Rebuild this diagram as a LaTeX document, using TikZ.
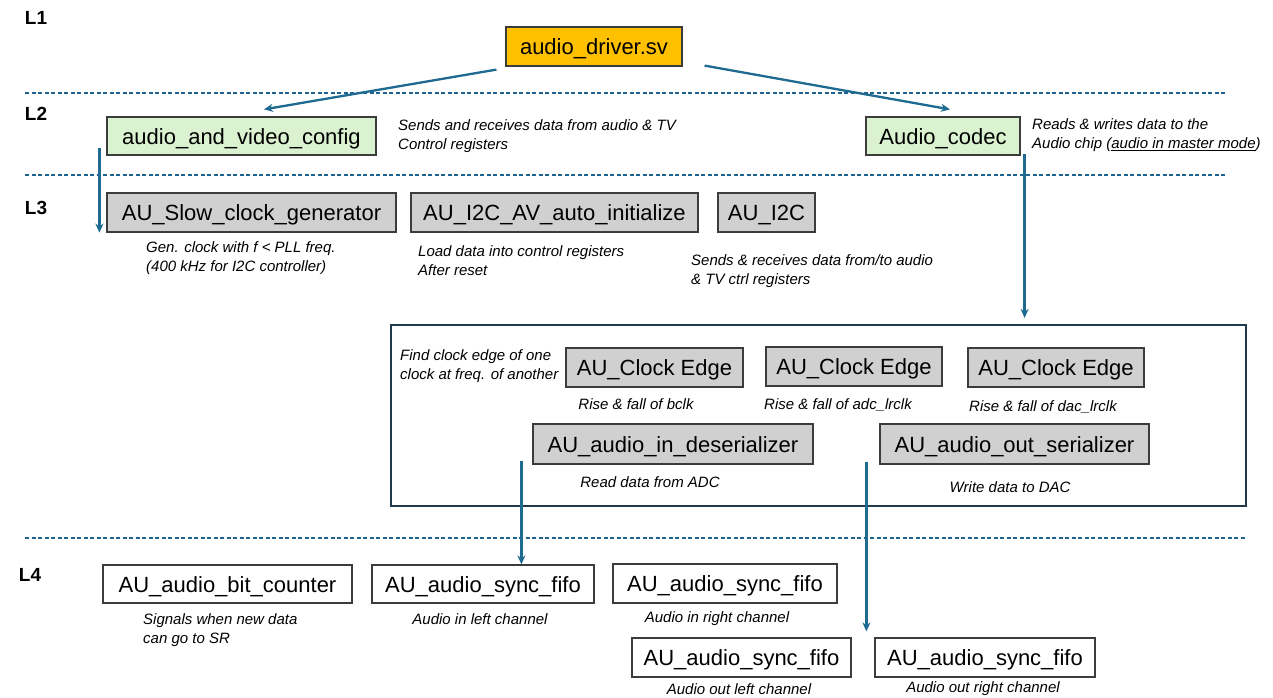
\documentclass[tikz,border=0pt]{standalone}
\usepackage{fontspec}
\setmainfont{Liberation Sans}
\usetikzlibrary{arrows.meta}

\definecolor{linkblue}{HTML}{1E6A90}
\definecolor{sepblue}{HTML}{1F6391}
\definecolor{boxline}{HTML}{3C3C3C}
\definecolor{framecol}{HTML}{1F3A4D}
\definecolor{drvfill}{HTML}{FFC000}
\definecolor{cfgfill}{HTML}{DAF2D0}
\definecolor{modfill}{HTML}{D0D0D0}

\tikzset{
  block/.style={draw=boxline, line width=1.2pt, inner sep=0pt, minimum height=39pt,
    text height=20pt, text depth=4pt, font=\fontsize{22}{26}\selectfont},
  topbox/.style={block, fill=drvfill},
  cfgbox/.style={block, fill=cfgfill},
  modbox/.style={block, fill=modfill},
  fifobox/.style={block, fill=white},
  note/.style={font=\itshape\fontsize{15}{19}\selectfont, inner sep=0pt, align=left},
  level/.style={font=\bfseries\fontsize{19}{22}\selectfont, inner sep=0pt},
  sep/.style={sepblue, dashed, dash pattern=on 4pt off 2.5pt, line width=1.6pt},
  link/.style={linkblue, line width=2.3pt, -{Stealth[length=9pt,width=8pt]}}
}

\begin{document}
\begin{tikzpicture}[x=1pt,y=-1pt]
	\useasboundingbox (0,0) rectangle (1273,698);

	% levels
	\node[level] (l1) at (36,18) {L1};
	\node[level] (l2) at (36,114) {L2};
	\node[level] (l3) at (36,208) {L3};
	\node[level] (l4) at (30,575) {L4};
	\draw[sep] (25,93) -- (1225,93);
	\draw[sep] (25,175) -- (1225,175);
	\draw[sep] (25,538) -- (1245,538);

	% L1 and L2
	\node[topbox, minimum width=176pt] (drv) at (594,46.5) {audio\_driver.sv};
	\node[cfgbox, minimum width=269pt, minimum height=38pt] (avc) at (241.5,136) {audio\_and\_video\_config};
	\node[cfgbox, minimum width=154pt, minimum height=38pt] (codec) at (943,136) {Audio\_codec};
	\node[note, anchor=west] (avcnote) at (398,136.5) {Sends and receives data from audio \& TV\\Control registers};
	\node[note, anchor=west] (codecnote) at (1032,135) {Reads \& writes data to the\\Audio chip (\underline{audio in master mode})};

	% L3
	\node[modbox, minimum width=289pt] (slow) at (251.5,212.5) {AU\_Slow\_clock\_generator};
	\node[modbox, minimum width=287pt] (init) at (554.5,212.5) {AU\_I2C\_AV\_auto\_initialize};
	\node[modbox, minimum width=97pt] (i2c) at (766.5,212.5) {AU\_I2C};
	\node[note, anchor=west] (slownote) at (146,258) {Gen. clock with f < PLL freq.\\(400 kHz for I2C controller)};
	\node[note, anchor=west] (initnote) at (418,261) {Load data into control registers\\After reset};
	\node[note, anchor=west] (i2cnote) at (691,271) {Sends \& receives data from/to audio\\\& TV ctrl registers};

	% codec internals
	\node[draw=framecol, line width=2.2pt, minimum width=855pt, minimum height=181pt, inner sep=0pt] (edges) at (818.5,415.5) {};
	\node[note, anchor=west] (edgenote) at (400,366) {Find clock edge of one\\clock at freq. of another};
	\node[modbox, minimum width=177pt] (ce1) at (654.5,367.5) {AU\_Clock Edge};
	\node[modbox, minimum width=176pt] (ce2) at (854,366.5) {AU\_Clock Edge};
	\node[modbox, minimum width=176pt] (ce3) at (1056,367.5) {AU\_Clock Edge};
	\node[note] (ce1note) at (636,404) {Rise \& fall of bclk};
	\node[note] (ce2note) at (838,405) {Rise \& fall of adc\_lrclk};
	\node[note] (ce3note) at (1043,407) {Rise \& fall of dac\_lrclk};
	\node[modbox, minimum width=280pt, minimum height=40pt] (deser) at (673,444) {AU\_audio\_in\_deserializer};
	\node[modbox, minimum width=269pt, minimum height=40pt] (ser) at (1014.5,444) {AU\_audio\_out\_serializer};
	\node[note] (desernote) at (650,482) {Read data from ADC};
	\node[note] (sernote) at (1010,487) {Write data to DAC};

	% L4
	\node[fifobox, minimum width=249pt, minimum height=38pt] (bitc) at (227.5,584) {AU\_audio\_bit\_counter};
	\node[fifobox, minimum width=222pt, minimum height=38pt] (inl) at (483,584) {AU\_audio\_sync\_fifo};
	\node[fifobox, minimum width=224pt] (inr) at (725,583.5) {AU\_audio\_sync\_fifo};
	\node[fifobox, minimum width=219pt] (outl) at (741.5,657.5) {AU\_audio\_sync\_fifo};
	\node[fifobox, minimum width=220pt] (outr) at (985,657.5) {AU\_audio\_sync\_fifo};
	\node[note, anchor=west] (bitcnote) at (143,630) {Signals when new data\\can go to SR};
	\node[note] (inlnote) at (480,619) {Audio in left channel};
	\node[note] (inrnote) at (717,619) {Audio in right channel};
	\node[note] (outlnote) at (739,689) {Audio out left channel};
	\node[note] (outrnote) at (983,689) {Audio out right channel};

	% connectors
	\draw[link] ([xshift=-9pt,yshift=-3pt]drv.south west) -- ([xshift=22.5pt,yshift=7pt]avc.north);
	\draw[link] ([xshift=22pt,yshift=1pt]drv.south east) -- ([xshift=7pt,yshift=7pt]codec.north);
	\coordinate (avcdown) at ([xshift=-7pt,yshift=-12pt]avc.west);
	\draw[link] (avcdown) -- (avcdown |- slow.south);
	\coordinate (codecdown) at ([xshift=4pt,yshift=2pt]codec.south east);
	\draw[link, shorten >=6pt] (codecdown) -- (codecdown |- edges.north);
	\coordinate (deserdown) at ([xshift=-11pt,yshift=4pt]deser.south west);
	\draw[link] (deserdown) -- (deserdown |- inl.north);
	\coordinate (serdown) at ([xshift=-13pt,yshift=3pt]ser.south west);
	\draw[link, shorten >=6pt] (serdown) -- (serdown |- outl.north);
\end{tikzpicture}
\end{document}
